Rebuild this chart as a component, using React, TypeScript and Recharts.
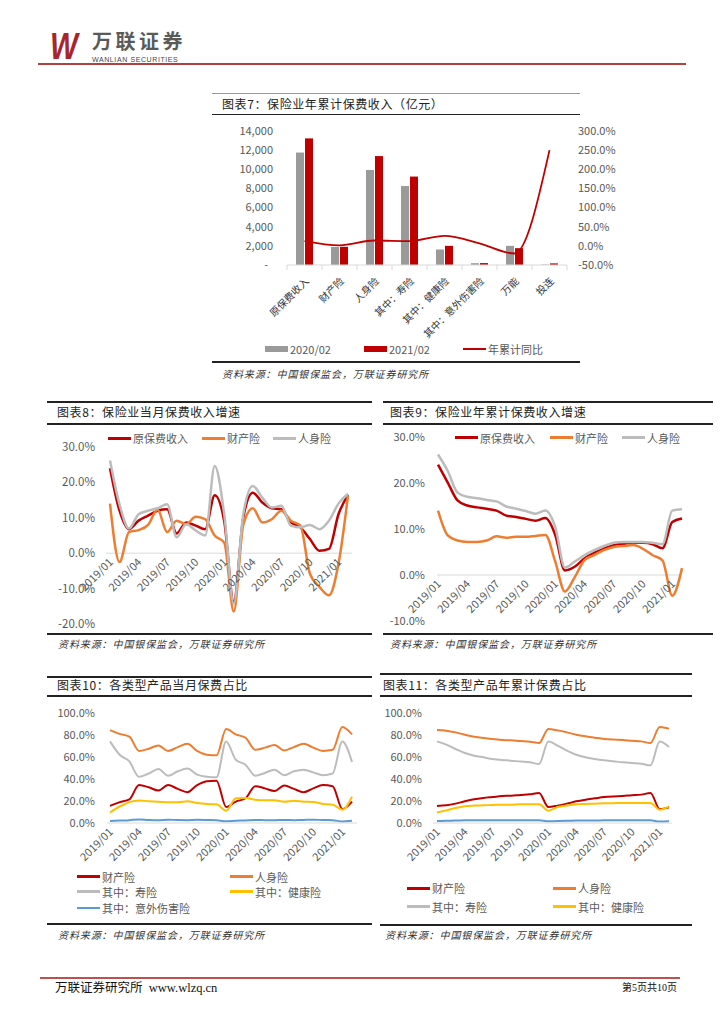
import React from 'react';
import { ComposedChart, LineChart, Bar, Line, XAxis, YAxis, ReferenceLine } from 'recharts';

const FONT = "'Noto Sans CJK SC', 'Noto Sans', sans-serif";
const SERIF = "'Liberation Serif', 'Noto Sans CJK SC', serif";
const RED = '#c00000';
const ORANGE = '#ed7d31';
const GREY = '#bcbcbc';
const YELLOW = '#ffc000';
const BLUE = '#5b9bd5';
const BAR_GREY = '#9a9a9a';
const TICK = '#595959';
const AXIS = '#d9d9d9';

// 图表7 年累计保费收入（亿元）
const categories = ['原保费收入', '财产险', '人身险', '其中：寿险', '其中：健康险', '其中：意外伤害险', '万能', '投连'];
const premium2020 = [11750, 1880, 9930, 8250, 1620, 190, 2000, 45];
const premium2021 = [13230, 1900, 11380, 9240, 2000, 200, 1760, 170];
const yoyGrowth = [12.5, 1.5, 14.0, 12.5, 26.0, 6.5, -20.0, 250.0];
const leftTicks7 = [0, 2000, 4000, 6000, 8000, 10000, 12000, 14000];
const rightTicks7 = [-50, 0, 50, 100, 150, 200, 250, 300];

const months = [
  '2019/01', '2019/02', '2019/03', '2019/04', '2019/05', '2019/06', '2019/07', '2019/08', '2019/09', '2019/10', '2019/11', '2019/12',
  '2020/01', '2020/02', '2020/03', '2020/04', '2020/05', '2020/06', '2020/07', '2020/08', '2020/09', '2020/10', '2020/11', '2020/12',
  '2021/01', '2021/02',
];

// 图表8 当月增速 (%)
const premMonthly = [24.0, 12.0, 6.8, 9.2, 10.6, 12.0, 12.4, 5.6, 8.7, 7.8, 6.8, 16.4, 9.0, -13.7, 10.0, 17.1, 14.3, 12.7, 12.4, 8.7, 7.3, 4.0, 0.7, 1.2, 11.0, 16.5];
const propMonthly = [14.0, -2.5, 6.0, 6.5, 8.0, 12.3, 6.0, 9.2, 8.2, 10.3, 9.6, 5.0, 3.0, -16.5, 8.0, 12.7, 8.7, 9.6, 12.0, 9.2, 7.8, -5.8, -9.5, -11.9, -3.0, 16.3];
const lifeMonthly = [26.2, 13.8, 7.0, 11.0, 12.0, 12.7, 13.8, 4.5, 8.2, 6.4, 5.0, 24.6, 11.0, -14.2, 11.0, 19.0, 15.7, 12.9, 13.4, 7.8, 7.3, 8.0, 6.8, 9.2, 14.0, 16.8];

// 图表9 年累计增速 (%)
const premCum = [24.0, 20.1, 16.2, 15.1, 14.7, 14.4, 14.0, 12.9, 12.6, 12.2, 11.8, 12.4, 8.8, 1.0, 1.8, 3.6, 4.8, 5.7, 6.5, 6.8, 7.0, 7.0, 6.7, 5.8, 11.5, 12.3];
const propCum = [14.0, 8.6, 7.5, 7.2, 7.2, 7.5, 8.4, 8.1, 8.3, 8.3, 8.5, 8.7, 3.0, -3.6, -0.5, 3.2, 4.3, 5.4, 6.1, 6.3, 6.5, 5.7, 4.3, 3.2, -4.5, 1.5];
const lifeCum = [26.2, 22.6, 17.9, 17.0, 16.7, 16.3, 16.0, 14.9, 14.4, 13.9, 13.3, 14.0, 10.5, 1.6, 2.9, 4.3, 5.4, 6.3, 7.0, 7.2, 7.2, 7.2, 7.0, 6.7, 14.0, 14.3];

// 图表10 当月保费占比 (%)
const propShareM = [15.5, 19.0, 21.5, 34.5, 32.5, 29.5, 34.5, 31.0, 28.0, 34.5, 38.0, 38.5, 14.5, 19.5, 22.5, 33.5, 31.5, 29.0, 34.0, 31.0, 28.0, 31.5, 34.5, 33.5, 12.7, 19.5];
const lifeShareM = [84.5, 81.0, 78.5, 65.5, 67.5, 70.5, 65.5, 69.0, 72.0, 65.5, 62.0, 61.5, 85.5, 80.5, 77.5, 66.5, 68.5, 71.0, 66.0, 69.0, 72.0, 68.5, 65.5, 66.5, 87.3, 80.5];
const lifeInsShareM = [74.2, 62.0, 56.0, 42.0, 45.0, 49.0, 43.0, 47.0, 49.5, 44.0, 42.0, 41.5, 74.0, 57.5, 53.0, 43.0, 45.5, 48.5, 43.5, 47.0, 48.5, 46.0, 43.5, 45.0, 74.0, 55.5];
const healthShareM = [9.5, 15.0, 19.0, 20.5, 19.8, 19.4, 18.8, 18.8, 19.7, 18.2, 17.3, 17.0, 11.2, 22.5, 22.7, 21.2, 20.6, 20.6, 19.4, 20.3, 19.4, 19.1, 17.3, 16.7, 12.1, 24.0];
const accidentShareM = [1.8, 2.2, 2.6, 3.2, 2.8, 2.6, 3.0, 2.7, 2.6, 2.9, 2.7, 2.4, 1.5, 2.0, 2.3, 2.7, 2.6, 2.5, 2.8, 2.6, 2.8, 3.0, 2.7, 2.6, 1.3, 2.0];

// 图表11 年累计保费占比 (%)
const propShareC = [15.5, 16.1, 17.6, 19.7, 21.5, 22.7, 23.6, 24.5, 24.8, 25.5, 26.1, 27.3, 14.5, 15.8, 17.6, 19.7, 21.2, 22.4, 23.6, 24.2, 24.5, 25.2, 25.8, 27.3, 12.7, 14.2];
const lifeShareC = [84.5, 83.9, 82.4, 80.3, 78.5, 77.3, 76.4, 75.5, 75.2, 74.5, 73.9, 72.7, 85.5, 84.2, 82.4, 80.3, 78.8, 77.6, 76.4, 75.8, 75.5, 74.8, 74.2, 72.7, 87.3, 85.8];
const lifeInsShareC = [74.2, 71.2, 67.3, 63.6, 61.2, 59.7, 58.2, 57.3, 56.7, 55.8, 55.2, 53.6, 74.0, 70.3, 65.8, 62.1, 59.7, 58.2, 57.0, 56.1, 55.2, 54.5, 53.9, 52.4, 74.0, 69.1];
const healthShareC = [9.5, 11.5, 13.6, 15.2, 15.8, 16.1, 16.4, 16.7, 16.7, 17.0, 17.0, 17.0, 11.2, 14.5, 16.0, 17.0, 17.3, 17.6, 17.9, 18.0, 18.2, 18.2, 18.2, 18.2, 12.1, 15.2];
const accidentShareC = [1.8, 2.0, 2.2, 2.4, 2.5, 2.5, 2.6, 2.6, 2.6, 2.6, 2.6, 2.6, 1.5, 1.8, 2.0, 2.2, 2.3, 2.3, 2.4, 2.4, 2.5, 2.5, 2.5, 2.5, 1.3, 1.6];

const pct = (v: number) => `${v.toFixed(1)}%`;
const SOURCE = '资料来源：中国银保监会，万联证券研究所';

type Series = { key: string; name: string; color: string; values: number[] };

function Frame({ x, w, top, topColor = '#222', topH = 2, titleY, titleX, title, ruleY, bottomY, srcX, srcY }: any) {
  return (
    <>
      <div style={{ position: 'absolute', left: x, top, width: w, height: topH, background: topColor }} />
      <div style={{ position: 'absolute', left: titleX, top: titleY - 9, fontFamily: FONT, fontSize: 12, lineHeight: '18px', letterSpacing: 0.6, color: '#222', whiteSpace: 'nowrap' }}>{title}</div>
      <div style={{ position: 'absolute', left: x, top: ruleY, width: w, height: 1.5, background: '#222' }} />
      <div style={{ position: 'absolute', left: x, top: bottomY, width: w, height: 2, background: '#222' }} />
      <div style={{ position: 'absolute', left: srcX, top: srcY - 8, fontFamily: FONT, fontSize: 10, lineHeight: '16px', letterSpacing: 0.9, fontStyle: 'italic', color: '#333', whiteSpace: 'nowrap' }}>{SOURCE}</div>
    </>
  );
}

function LegendItem({ x, y, color, label, kind = 'line', thick = 3 }: any) {
  return (
    <div style={{ position: 'absolute', left: x, top: y - 8, height: 16, display: 'flex', alignItems: 'center', fontFamily: FONT, fontSize: 11, color: TICK, whiteSpace: 'nowrap' }}>
      <span style={{ display: 'inline-block', width: 23, height: kind === 'rect' ? 6 : thick, background: color, marginRight: 2 }} />
      {label}
    </div>
  );
}

const BAND7 = 35;
const CatTick = (props: any) => {
  const { x, y, payload, index } = props;
  const tx = x + 2.5;
  const ty = y + 14.5;
  return (
    <g>
      <line x1={x - BAND7 / 2} x2={x - BAND7 / 2} y1={y} y2={y + 5} stroke={AXIS} />
      {index === categories.length - 1 && <line x1={x + BAND7 / 2} x2={x + BAND7 / 2} y1={y} y2={y + 5} stroke={AXIS} />}
      <text x={tx} y={ty} dy="0.35em" textAnchor="end" transform={`rotate(-45 ${tx} ${ty})`} fontSize={10} fill="#333" fontFamily={FONT}>
        {payload.value}
      </text>
    </g>
  );
};

function Chart7() {
  const data = categories.map((name, i) => ({ name, y2020: premium2020[i], y2021: premium2021[i], yoy: yoyGrowth[i] }));
  return (
    <div style={{ position: 'absolute', left: 212, top: 118 }}>
      <ComposedChart width={410} height={244} data={data} margin={{ top: 13, right: 10, left: 15, bottom: 7 }} barSize={8} barGap={1} style={{ fontFamily: FONT }}>
        <XAxis dataKey="name" interval={0} height={90} tickSize={0} tickMargin={0} tickLine={false} axisLine={{ stroke: AXIS }} tick={CatTick} />
        <YAxis
          yAxisId="l"
          width={60}
          domain={[0, 14000]}
          ticks={leftTicks7}
          tickFormatter={(v: number) => (v === 0 ? '-\u00a0\u00a0' : v.toLocaleString('en-US'))}
          tickSize={0}
          tickMargin={14}
          tickLine={false}
          axisLine={false}
          tick={{ fontSize: 11, fill: TICK }}
        />
        <YAxis
          yAxisId="r"
          orientation="right"
          width={45}
          domain={[-50, 300]}
          ticks={rightTicks7}
          tickFormatter={pct}
          tickSize={0}
          tickMargin={11}
          tickLine={false}
          axisLine={false}
          tick={{ fontSize: 11, fill: TICK }}
        />
        <Bar yAxisId="l" dataKey="y2020" name="2020/02" fill={BAR_GREY} isAnimationActive={false} />
        <Bar yAxisId="l" dataKey="y2021" name="2021/02" fill={RED} isAnimationActive={false} />
        <Line yAxisId="r" dataKey="yoy" name="年累计同比" type="monotone" stroke={RED} strokeWidth={1.8} dot={false} activeDot={false} isAnimationActive={false} />
      </ComposedChart>
    </div>
  );
}

function MonthChart({ left, top, width, height, margin, yWidth, yTickMargin, domain, ticks, series, shift, xHeight, padding, stroke, tickFont = 11 }: any) {
  const data = months.map((m, i) => {
    const row: any = { m };
    series.forEach((s: Series) => {
      row[s.key] = s.values[i];
    });
    return row;
  });
  const DateTick = (p: any) => {
    const tx = p.x + 1;
    const ty = p.y + shift + 7;
    return (
      <text x={tx} y={ty} dy="0.35em" textAnchor="end" transform={`rotate(-45 ${tx} ${ty})`} fontSize={11} fill={TICK} fontFamily={FONT}>
        {p.payload.value}
      </text>
    );
  };
  return (
    <div style={{ position: 'absolute', left, top }}>
      <LineChart width={width} height={height} data={data} margin={margin} style={{ fontFamily: FONT }}>
        <XAxis
          dataKey="m"
          interval={2}
          height={xHeight}
          padding={padding}
          tickSize={0}
          tickMargin={0}
          tickLine={false}
          axisLine={shift === 0 ? { stroke: AXIS } : false}
          tick={DateTick}
        />
        <YAxis
          width={yWidth}
          domain={domain}
          ticks={ticks}
          tickFormatter={pct}
          tickSize={0}
          tickMargin={yTickMargin}
          tickLine={false}
          axisLine={false}
          tick={{ fontSize: tickFont, fill: TICK }}
        />
        {shift !== 0 && <ReferenceLine y={0} stroke={AXIS} strokeWidth={1} />}
        {series.map((s: Series) => (
          <Line key={s.key} dataKey={s.key} name={s.name} type="monotone" stroke={s.color} strokeWidth={stroke} dot={false} activeDot={false} isAnimationActive={false} />
        ))}
      </LineChart>
    </div>
  );
}

const series8: Series[] = [
  { key: 'prem', name: '原保费收入', color: RED, values: premMonthly },
  { key: 'prop', name: '财产险', color: ORANGE, values: propMonthly },
  { key: 'life', name: '人身险', color: GREY, values: lifeMonthly },
];
const series9: Series[] = [
  { key: 'prem', name: '原保费收入', color: RED, values: premCum },
  { key: 'prop', name: '财产险', color: ORANGE, values: propCum },
  { key: 'life', name: '人身险', color: GREY, values: lifeCum },
];
const series10: Series[] = [
  { key: 'prop', name: '财产险', color: RED, values: propShareM },
  { key: 'life', name: '人身险', color: ORANGE, values: lifeShareM },
  { key: 'lifeIns', name: '其中：寿险', color: GREY, values: lifeInsShareM },
  { key: 'health', name: '其中：健康险', color: YELLOW, values: healthShareM },
  { key: 'acc', name: '其中：意外伤害险', color: BLUE, values: accidentShareM },
];
const series11: Series[] = [
  { key: 'prop', name: '财产险', color: RED, values: propShareC },
  { key: 'life', name: '人身险', color: ORANGE, values: lifeShareC },
  { key: 'lifeIns', name: '其中：寿险', color: GREY, values: lifeInsShareC },
  { key: 'health', name: '其中：健康险', color: YELLOW, values: healthShareC },
  { key: 'acc', name: '其中：意外伤害险', color: BLUE, values: accidentShareC },
];

export default function App() {
  return (
    <div style={{ position: 'absolute', left: 0, top: 0, width: 724, height: 1024, background: '#fff', overflow: 'hidden', fontFamily: FONT }}>
      {/* header */}
      <div style={{ position: 'absolute', left: 50, top: 27, fontFamily: "'Liberation Sans', sans-serif", fontSize: 36, lineHeight: '40px', fontWeight: 700, fontStyle: 'italic', color: '#a8262b', transform: 'scaleX(0.82)', transformOrigin: 'left top' }}>W</div>
      <div style={{ position: 'absolute', left: 92, top: 31, fontSize: 20, lineHeight: '20px', fontWeight: 700, letterSpacing: 3.5, color: '#5a5a5a', whiteSpace: 'nowrap' }}>万联证券</div>
      <div style={{ position: 'absolute', left: 92, top: 56, fontFamily: "'Liberation Sans', sans-serif", fontSize: 7, lineHeight: '7px', letterSpacing: 0.6, color: '#444', whiteSpace: 'nowrap' }}>WANLIAN SECURITIES</div>
      <div style={{ position: 'absolute', left: 38, top: 62.5, width: 648, height: 2, background: '#b0413e' }} />

      {/* 图表7 */}
      <Frame x={212} w={368} top={92.5} topColor="#999" topH={1.5} titleY={104} titleX={222} title="图表7：保险业年累计保费收入（亿元）" ruleY={113.5} bottomY={361} srcX={222} srcY={374} />
      <Chart7 />
      <LegendItem x={265} y={349} color={BAR_GREY} label="2020/02" kind="rect" />
      <LegendItem x={364} y={349} color={RED} label="2021/02" kind="rect" />
      <LegendItem x={463} y={349} color={RED} label="年累计同比" thick={2} />

      {/* 图表8 */}
      <Frame x={47} w={325} top={401} titleY={412} titleX={57} title="图表8：保险业当月保费收入增速" ruleY={423} bottomY={633} srcX={58} srcY={644} />
      <MonthChart
        left={45}
        top={428}
        width={330}
        height={206}
        margin={{ top: 19, right: 23, left: 11, bottom: 8 }}
        yWidth={50}
        yTickMargin={11}
        domain={[-20, 30]}
        ticks={[-20, -10, 0, 10, 20, 30]}
        series={series8}
        shift={-177 * 0.4}
        xHeight={2}
        padding={{ left: 4, right: 4 }}
        stroke={2.5}
        tickFont={11.5}
      />
      <LegendItem x={108} y={438} color={RED} label="原保费收入" />
      <LegendItem x={202} y={438} color={ORANGE} label="财产险" />
      <LegendItem x={273} y={438} color={GREY} label="人身险" />

      {/* 图表9 */}
      <Frame x={383} w={330} top={401} titleY={412} titleX={390} title="图表9：保险业年累计保费收入增速" ruleY={423} bottomY={633} srcX={390} srcY={644} />
      <MonthChart
        left={380}
        top={428}
        width={340}
        height={206}
        margin={{ top: 9, right: 38, left: 12, bottom: 11 }}
        yWidth={45}
        yTickMargin={12}
        domain={[-10, 30]}
        ticks={[-10, 0, 10, 20, 30]}
        series={series9}
        shift={-184 * 0.25}
        xHeight={2}
        padding={{ left: 1, right: 0 }}
        stroke={2.5}
      />
      <LegendItem x={455} y={437.5} color={RED} label="原保费收入" />
      <LegendItem x={550} y={437.5} color={ORANGE} label="财产险" />
      <LegendItem x={622} y={437.5} color={GREY} label="人身险" />

      {/* 图表10 */}
      <Frame x={47} w={325} top={675.5} titleY={685} titleX={57} title="图表10：各类型产品当月保费占比" ruleY={695} bottomY={922.5} srcX={58} srcY={935} />
      <MonthChart
        left={45}
        top={698}
        width={330}
        height={175}
        margin={{ top: 15, right: 18, left: 12, bottom: 0 }}
        yWidth={50}
        yTickMargin={12}
        domain={[0, 100]}
        ticks={[0, 20, 40, 60, 80, 100]}
        series={series10}
        shift={0}
        xHeight={50}
        padding={{ left: 3, right: 5 }}
        stroke={2}
      />
      <LegendItem x={77} y={876.7} color={RED} label="财产险" thick={2.5} />
      <LegendItem x={230} y={876.7} color={ORANGE} label="人身险" thick={2.5} />
      <LegendItem x={77} y={891.7} color={GREY} label="其中：寿险" thick={2.5} />
      <LegendItem x={230} y={891.7} color={YELLOW} label="其中：健康险" thick={2.5} />
      <LegendItem x={77} y={908} color={BLUE} label="其中：意外伤害险" thick={2.5} />

      {/* 图表11 */}
      <Frame x={380} w={312} top={673} titleY={685} titleX={383} title="图表11：各类型产品年累计保费占比" ruleY={695} bottomY={924} srcX={385} srcY={935} />
      <MonthChart
        left={380}
        top={698}
        width={320}
        height={175}
        margin={{ top: 15, right: 28, left: 8, bottom: 0 }}
        yWidth={45}
        yTickMargin={11}
        domain={[0, 100]}
        ticks={[0, 20, 40, 60, 80, 100]}
        series={series11}
        shift={0}
        xHeight={50}
        padding={{ left: 4, right: 3 }}
        stroke={2}
      />
      <LegendItem x={407} y={888.3} color={RED} label="财产险" thick={2.5} />
      <LegendItem x={553} y={888.3} color={ORANGE} label="人身险" thick={2.5} />
      <LegendItem x={407} y={906.7} color={GREY} label="其中：寿险" thick={2.5} />
      <LegendItem x={553} y={906.7} color={YELLOW} label="其中：健康险" thick={2.5} />

      {/* footer */}
      <div style={{ position: 'absolute', left: 40, top: 977, width: 640, height: 2, background: '#c0504d' }} />
      <div style={{ position: 'absolute', left: 55, top: 980, fontFamily: SERIF, fontSize: 12.5, lineHeight: '16px', color: '#111', whiteSpace: 'nowrap' }}>万联证券研究所&nbsp;&nbsp;www.wlzq.cn</div>
      <div style={{ position: 'absolute', left: 622, top: 981, fontFamily: SERIF, fontSize: 10, lineHeight: '14px', color: '#111', whiteSpace: 'nowrap' }}>第5页共10页</div>
    </div>
  );
}
